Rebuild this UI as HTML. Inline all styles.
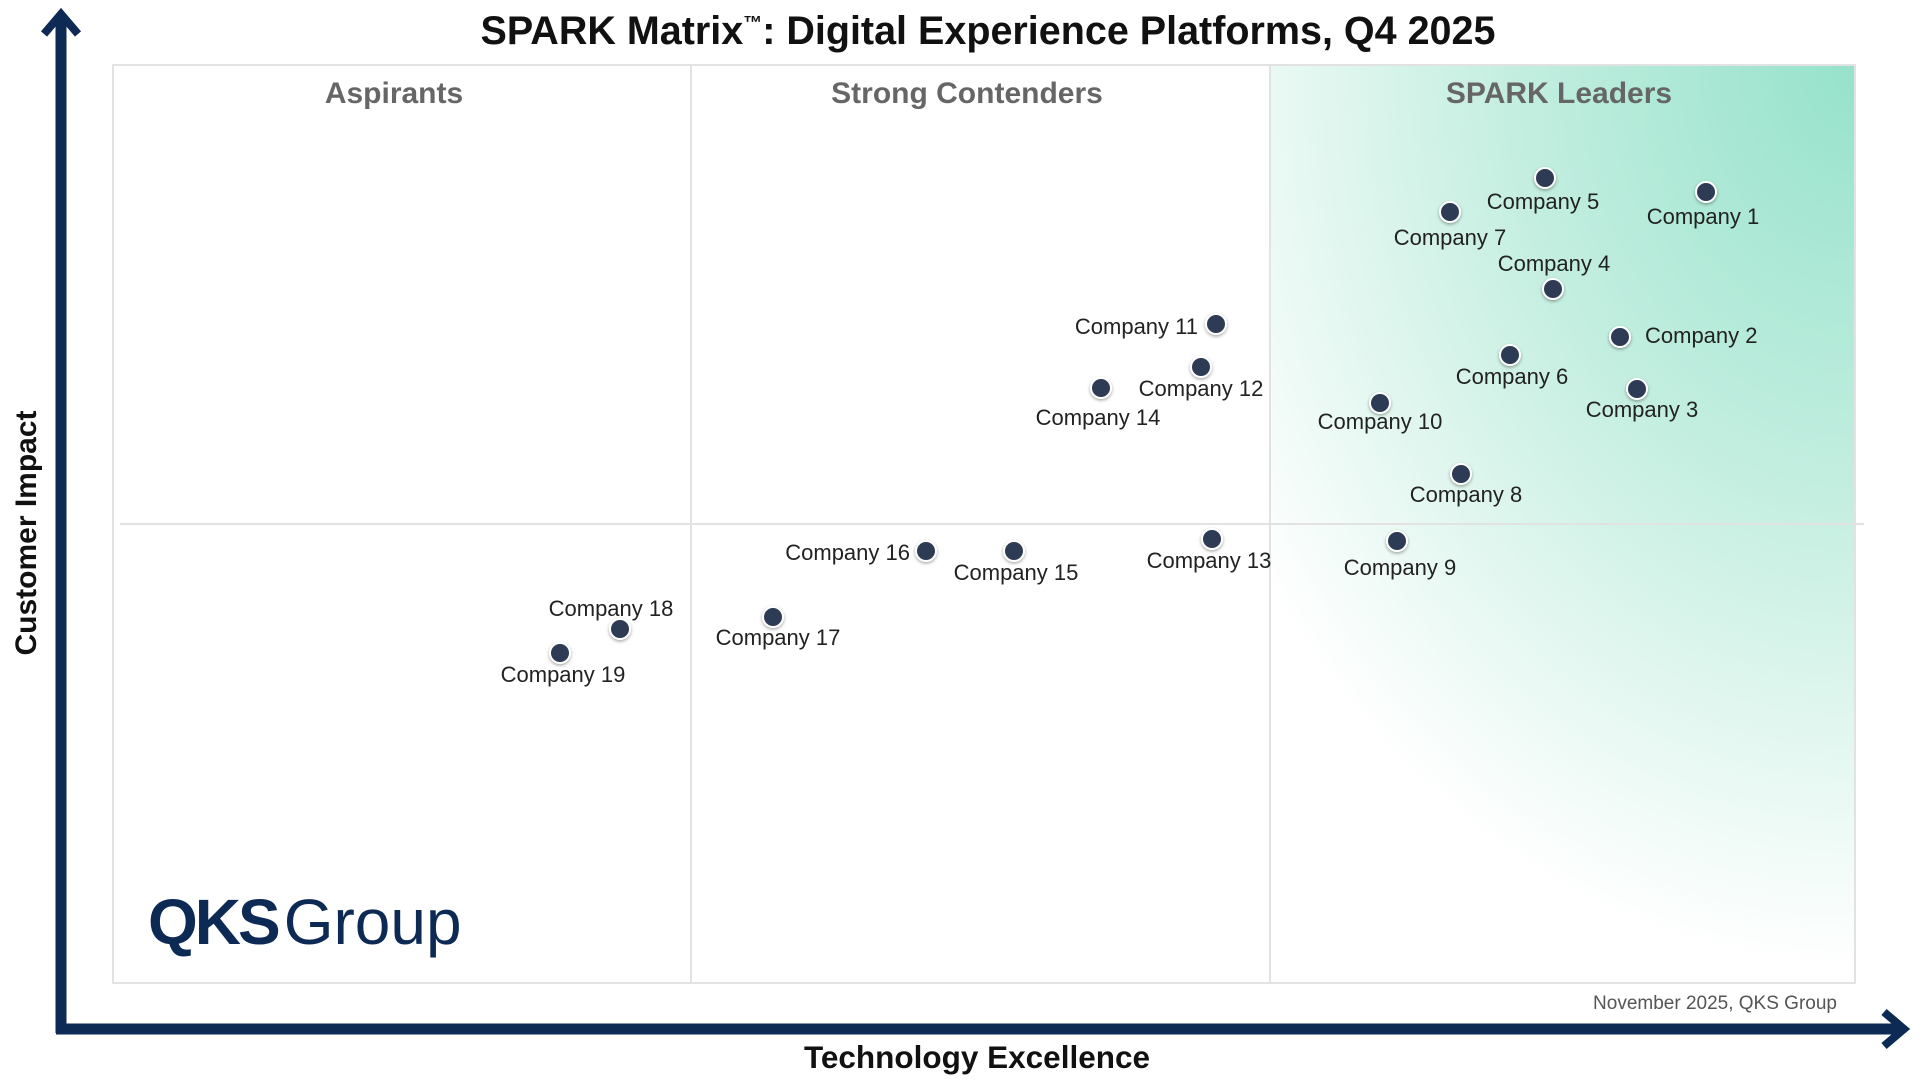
<!DOCTYPE html>
<html><head><meta charset="utf-8"><style>
html,body{margin:0;padding:0;background:#fff;}
svg{display:block;font-family:"Liberation Sans",Arial,sans-serif;}
</style></head><body>
<svg width="1920" height="1080" viewBox="0 0 1920 1080" xmlns="http://www.w3.org/2000/svg">
<defs>
<radialGradient id="g" cx="1" cy="0" r="1.45" gradientUnits="objectBoundingBox" gradientTransform="translate(1 0) scale(1 0.8) translate(-1 0)">
<stop offset="0" stop-color="#96e2cb"/>
<stop offset="0.4" stop-color="#c3eee0"/>
<stop offset="0.72" stop-color="#eefaf6"/>
<stop offset="0.85" stop-color="#ffffff"/>
</radialGradient>
<filter id="sh" x="-50%" y="-50%" width="200%" height="200%"><feDropShadow dx="0" dy="1.5" stdDeviation="1.5" flood-color="#000" flood-opacity="0.35"/></filter>
</defs>
<text x="988" y="44" text-anchor="middle" font-size="39.5" font-weight="bold" fill="#111">SPARK Matrix<tspan font-size="19" dy="-15">™</tspan><tspan dy="15">: Digital Experience Platforms, Q4 2025</tspan></text>
<rect x="1270" y="65" width="585" height="918" fill="url(#g)"/>
<rect x="113" y="65" width="1742" height="918" fill="none" stroke="#e2e2e2" stroke-width="2"/>
<line x1="691" y1="65" x2="691" y2="983" stroke="#e2e2e2" stroke-width="2"/>
<line x1="1270" y1="65" x2="1270" y2="983" stroke="#e2e2e2" stroke-width="2"/>
<line x1="120" y1="524" x2="1864" y2="524" stroke="#e2e2e2" stroke-width="2"/>
<g font-size="30" font-weight="bold" fill="#666" text-anchor="middle">
<text x="394" y="103">Aspirants</text>
<text x="967" y="103">Strong Contenders</text>
<text x="1559" y="103">SPARK Leaders</text>
</g>
<line x1="61" y1="20" x2="61" y2="1033" stroke="#0d2a55" stroke-width="11"/>
<polyline points="44,34 61,14 78,34" fill="none" stroke="#0d2a55" stroke-width="8"/>
<line x1="56" y1="1029" x2="1898" y2="1029" stroke="#0d2a55" stroke-width="11"/>
<polyline points="1884,1012 1904,1029 1884,1046" fill="none" stroke="#0d2a55" stroke-width="8"/>
<text transform="translate(36,533) rotate(-90)" text-anchor="middle" font-size="30" font-weight="bold" fill="#111">Customer Impact</text>
<text x="977" y="1068" text-anchor="middle" font-size="31.5" font-weight="bold" fill="#111">Technology Excellence</text>
<text x="1837" y="1009" text-anchor="end" font-size="19" fill="#555">November  2025,  QKS Group</text>
<text x="148" y="944" font-size="64" fill="#0d2a55"><tspan font-weight="bold" letter-spacing="-3">QKS</tspan><tspan dx="6">Group</tspan></text>
<g fill="#2e3a55" stroke="#fff" stroke-width="2" filter="url(#sh)">
<circle cx="1706" cy="192" r="10"/><circle cx="1545" cy="178" r="10"/><circle cx="1450" cy="212" r="10"/>
<circle cx="1553" cy="289" r="10"/><circle cx="1620" cy="337" r="10"/><circle cx="1510" cy="355" r="10"/>
<circle cx="1637" cy="389" r="10"/><circle cx="1380" cy="403" r="10"/><circle cx="1461" cy="474" r="10"/>
<circle cx="1397" cy="541" r="10"/><circle cx="1216" cy="324" r="10"/><circle cx="1201" cy="367" r="10"/>
<circle cx="1101" cy="388" r="10"/><circle cx="1212" cy="539" r="10"/><circle cx="1014" cy="551" r="10"/>
<circle cx="926" cy="551" r="10"/><circle cx="773" cy="617" r="10"/><circle cx="620" cy="629" r="10"/>
<circle cx="560" cy="653" r="10"/>
</g>
<g font-size="22" fill="#222" text-anchor="middle">
<text x="1703" y="224">Company 1</text>
<text x="1543" y="209">Company 5</text>
<text x="1450" y="245">Company 7</text>
<text x="1554" y="271">Company 4</text>
<text x="1645" y="343" text-anchor="start">Company 2</text>
<text x="1512" y="384">Company 6</text>
<text x="1642" y="417">Company 3</text>
<text x="1380" y="429">Company 10</text>
<text x="1466" y="502">Company 8</text>
<text x="1400" y="575">Company 9</text>
<text x="1198" y="334" text-anchor="end">Company 11</text>
<text x="1201" y="396">Company 12</text>
<text x="1098" y="425">Company 14</text>
<text x="1209" y="568">Company 13</text>
<text x="1016" y="580">Company 15</text>
<text x="910" y="560" text-anchor="end">Company 16</text>
<text x="778" y="645">Company 17</text>
<text x="611" y="616">Company 18</text>
<text x="563" y="682">Company 19</text>
</g>
</svg>
</body></html>
